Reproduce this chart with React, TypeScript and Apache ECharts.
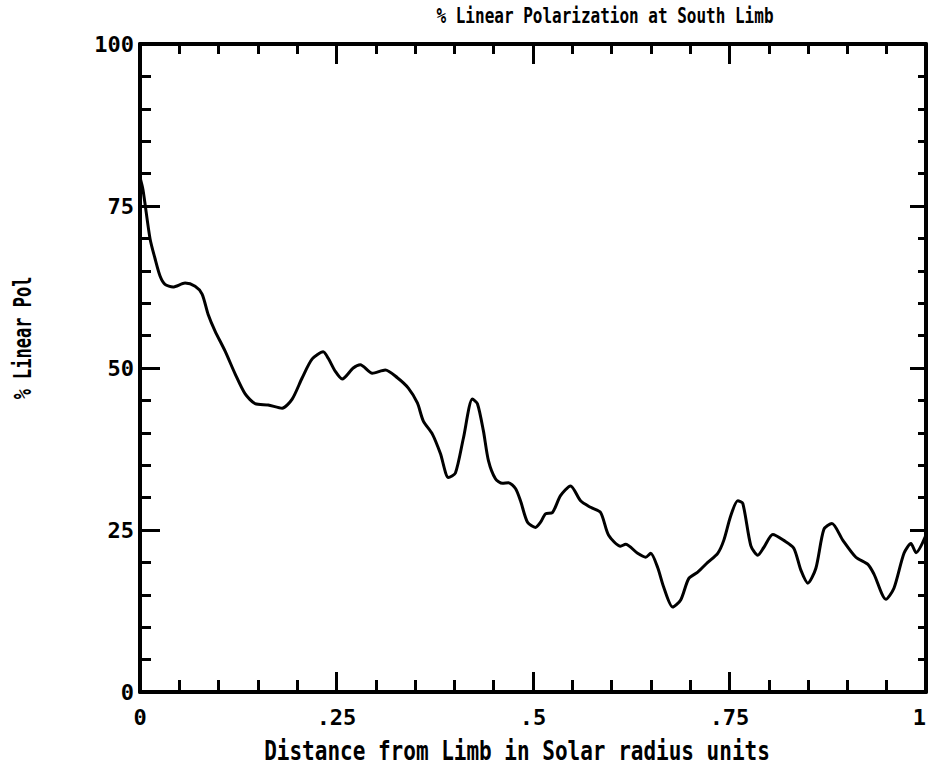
import React, { useEffect, useRef } from "react";
import * as echarts from "echarts";

const xValues = [
  0, 0.0038, 0.0127, 0.0191, 0.0255, 0.0318, 0.042, 0.0573, 0.0701, 0.079,
  0.0866, 0.0955, 0.1083, 0.121, 0.1338, 0.1465, 0.1631, 0.1809, 0.1936, 0.2064,
  0.2191, 0.2331, 0.2395, 0.2484, 0.2573, 0.2713, 0.2803, 0.2955, 0.3121, 0.3274,
  0.3414, 0.3529, 0.3605, 0.372, 0.3822, 0.3924, 0.4013, 0.4115, 0.4229, 0.4293,
  0.4369, 0.4433, 0.4522, 0.4611, 0.4688, 0.4777, 0.4841, 0.493, 0.5032, 0.5096,
  0.5159, 0.5248, 0.535, 0.5478, 0.5605, 0.5732, 0.586, 0.5962, 0.6115, 0.6178,
  0.6331, 0.6433, 0.6497, 0.6586, 0.6662, 0.6777, 0.6879, 0.6981, 0.7096, 0.7223,
  0.735, 0.7427, 0.7516, 0.7605, 0.7669, 0.7771, 0.786, 0.7936, 0.8051, 0.8191,
  0.8318, 0.8408, 0.8497, 0.8599, 0.8701, 0.8803, 0.8943, 0.9108, 0.9261, 0.9338,
  0.949, 0.9592, 0.972, 0.9809, 0.9873, 1.0,
];

const polValues = [
  79.4, 77.5, 70.0, 66.9, 64.2, 62.9, 62.5, 63.1, 62.6, 61.4,
  58.3, 55.7, 52.6, 49.1, 46.0, 44.5, 44.3, 43.8, 45.2, 48.5,
  51.4, 52.5, 51.5, 49.5, 48.3, 50.0, 50.5, 49.2, 49.7, 48.5,
  46.9, 44.6, 41.8, 39.8, 36.8, 33.1, 33.8, 39.2, 45.2, 44.5,
  40.3, 35.7, 32.9, 32.2, 32.3, 31.4, 29.5, 26.2, 25.4, 26.2,
  27.5, 27.7, 30.3, 31.8, 29.5, 28.5, 27.7, 24.2, 22.5, 22.8,
  21.4, 20.8, 21.4, 19.2, 16.2, 13.1, 14.2, 17.5, 18.5, 20.0,
  21.4, 23.4, 27.2, 29.5, 29.1, 22.6, 21.1, 22.3, 24.3, 23.4,
  22.2, 18.8, 16.8, 19.1, 25.1, 26.0, 23.4, 20.8, 19.7, 18.2,
  14.3, 16.0, 21.4, 22.9, 21.5, 24.2,
];

const xTickLabels = ["0", ".25", ".5", ".75", "1"];
const yTickLabels = ["0", "25", "50", "75", "100"];

const titleText = "% Linear Polarization at South Limb";
const xTitle = "Distance from Limb in Solar radius units";
const yTitle = "% Linear Pol";

const FONT = "'DejaVu Sans Mono', 'Liberation Mono', monospace";

export default function App() {
  const ref = useRef<HTMLDivElement>(null);

  useEffect(() => {
    document.body.style.margin = "0";
    if (!ref.current) return;
    const chart = echarts.init(ref.current, null, { renderer: "svg" });

    const axisLine = { show: true, onZero: false, lineStyle: { color: "#000", width: 4 } };
    const tick = (len: number) => ({
      show: true,
      inside: true,
      length: len,
      lineStyle: { color: "#000", width: 3 },
    });
    const minor = (len: number) => ({
      show: true,
      splitNumber: 5,
      length: len,
      lineStyle: { color: "#000", width: 3 },
    });
    const xCommon = {
      type: "value" as const,
      min: 0,
      max: 1,
      interval: 0.25,
      axisLine,
      splitLine: { show: false },
      minorSplitLine: { show: false },
    };
    const yCommon = {
      type: "value" as const,
      min: 0,
      max: 100,
      interval: 25,
      axisLine,
      splitLine: { show: false },
      minorSplitLine: { show: false },
    };
    const labelStyle = {
      color: "#000",
      fontFamily: FONT,
      fontWeight: "bold",
      fontSize: 22,
    };

    chart.setOption({
      animation: false,
      backgroundColor: "#fff",
      grid: {
        left: 140,
        top: 44,
        width: 786,
        height: 648,
        containLabel: false,
        outerBoundsMode: "none",
      },
      xAxis: [
        {
          ...xCommon,
          position: "bottom",
          axisTick: tick(20),
          minorTick: minor(12),
          axisLabel: {
            show: true,
            margin: 14,
            alignMaxLabel: "right",
            ...labelStyle,
            formatter: (v: number) => xTickLabels[Math.round(v / 0.25)] ?? "",
          },
        },
        {
          ...xCommon,
          position: "top",
          axisTick: tick(20),
          minorTick: minor(10),
          axisLabel: { show: false },
        },
      ],
      yAxis: [
        {
          ...yCommon,
          position: "left",
          axisTick: tick(20),
          minorTick: minor(11),
          axisLabel: {
            show: true,
            margin: 6,
            ...labelStyle,
            formatter: (v: number) => yTickLabels[Math.round(v / 25)] ?? "",
          },
        },
        {
          ...yCommon,
          position: "right",
          axisTick: tick(16),
          minorTick: minor(8),
          axisLabel: { show: false },
        },
      ],
      graphic: [
        {
          type: "text",
          x: 605,
          y: 15,
          scaleY: 1.35,
          style: {
            text: titleText,
            fontFamily: FONT,
            fontWeight: "bold",
            fontSize: 16,
            fill: "#000",
            textAlign: "center",
            textVerticalAlign: "middle",
          },
        },
        {
          type: "text",
          x: 517,
          y: 751,
          scaleY: 1.25,
          style: {
            text: xTitle,
            fontFamily: FONT,
            fontWeight: "bold",
            fontSize: 21,
            fill: "#000",
            textAlign: "center",
            textVerticalAlign: "middle",
          },
        },
        {
          type: "text",
          x: 22,
          y: 338,
          rotation: Math.PI / 2,
          scaleY: 1.5,
          style: {
            text: yTitle,
            fontFamily: FONT,
            fontWeight: "bold",
            fontSize: 17,
            fill: "#000",
            textAlign: "center",
            textVerticalAlign: "middle",
          },
        },
      ],
      series: [
        {
          type: "line",
          xAxisIndex: 0,
          yAxisIndex: 0,
          data: xValues.map((x, i) => [x, polValues[i]]),
          showSymbol: false,
          smooth: 0.25,
          lineStyle: { color: "#000", width: 3 },
        },
      ],
    });

    return () => chart.dispose();
  }, []);

  return <div ref={ref} style={{ width: 929, height: 773 }} />;
}
